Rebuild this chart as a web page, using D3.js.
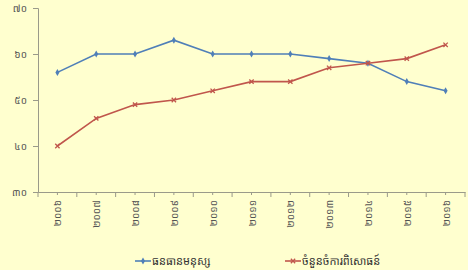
<!DOCTYPE html>
<html><head><meta charset="utf-8">
<script src="https://cdn.jsdelivr.net/npm/d3@7"></script>
<style>
html,body{margin:0;padding:0;background:#ffffcf;}
svg{display:block;}
text{font-family:"Noto Sans Khmer","Khmer OS","Noto Sans","DejaVu Sans",sans-serif;}
</style></head>
<body><svg id="c" width="468" height="270"></svg>
<script>
const years = ["២០០៦","២០០៧","២០០៨","២០០៩","២០១០","២០១១","២០១២","២០១៣","២០១៤","២០១៥","២០១៦"];
const humanResources = [56, 60, 60, 63, 60, 60, 60, 59, 58, 54, 52];
const investmentProjects = [40, 46, 49, 50, 52, 54, 54, 57, 58, 59, 62];
const yTicks = [30, 40, 50, 60, 70];
const yTickLabels = ["៣០","៤០","៥០","៦០","៧០"];
const seriesNames = ["ធនធានមនុស្ស","ចំនួនចំការពិសោធន៍"];
const colors = ["#4f7fb8", "#c0564c"];

const svg = d3.select("#c");
svg.append("rect").attr("width",468).attr("height",270).attr("fill","#ffffcf");
const mLeft = 38, mRight = 465, mTop = 8, mBottom = 192;
const x = d3.scaleBand().domain(years).range([mLeft, mRight]).padding(0);
const y = d3.scaleLinear().domain([30, 70]).range([mBottom, mTop]);
const axisColor = "#9a9a8a";

// y axis
const yg = svg.append("g").attr("transform",`translate(${mLeft},0)`)
  .call(d3.axisLeft(y).tickValues(yTicks).tickFormat((d,i)=>yTickLabels[i]).tickSize(5).tickPadding(6));
yg.select(".domain").attr("stroke",axisColor);
yg.selectAll(".tick line").attr("stroke",axisColor);
yg.selectAll(".tick text").attr("fill","#555").style("font-size","10px");

// x axis
const xg = svg.append("g").attr("transform",`translate(0,${mBottom})`)
  .call(d3.axisBottom(x).tickSize(0).tickFormat(""));
xg.select(".domain").attr("stroke",axisColor);
const bounds = years.map(d=>x(d)).concat([mRight]);
svg.append("g").selectAll("line").data(bounds).join("line")
  .attr("x1",d=>d).attr("x2",d=>d).attr("y1",mBottom).attr("y2",mBottom+5)
  .attr("stroke",axisColor);
svg.append("g").selectAll("line").data(years).join("line")
  .attr("x1",d=>x(d)+x.bandwidth()/2).attr("x2",d=>x(d)+x.bandwidth()/2)
  .attr("y1",mBottom).attr("y2",mBottom+3).attr("stroke",axisColor);
svg.append("g").selectAll("text").data(years).join("text")
  .attr("transform",d=>`translate(${x(d)+x.bandwidth()/2+4},${mBottom+8}) rotate(-90)`)
  .attr("text-anchor","end").attr("fill","#555").style("font-size","10px")
  .text(d=>d);

const cx = d => x(d) + x.bandwidth()/2;
const line = d3.line().x((d,i)=>cx(years[i])).y(d=>y(d));

[humanResources, investmentProjects].forEach((s,k)=>{
  svg.append("path").datum(s).attr("d",line).attr("fill","none")
    .attr("stroke",colors[k]).attr("stroke-width",1.6);
  const g = svg.append("g");
  if(k===0){
    g.selectAll("path").data(s).join("path")
      .attr("d",d3.symbol(d3.symbolDiamond,14)())
      .attr("transform",(d,i)=>`translate(${cx(years[i])},${y(d)})`)
      .attr("fill",colors[k]);
  } else {
    g.selectAll("path").data(s).join("path")
      .attr("d",d3.symbol(d3.symbolX,14)())
      .attr("transform",(d,i)=>`translate(${cx(years[i])},${y(d)})`)
      .attr("fill","none").attr("stroke",colors[k]).attr("stroke-width",1.3);
  }
});

const legendX = [135, 285];
seriesNames.forEach((n,k)=>{
  const g = svg.append("g").attr("transform",`translate(${legendX[k]},261)`);
  g.append("line").attr("x1",0).attr("x2",16).attr("y1",0).attr("y2",0)
    .attr("stroke",colors[k]).attr("stroke-width",1.6);
  if(k===0) g.append("path").attr("d",d3.symbol(d3.symbolDiamond,14)()).attr("transform","translate(8,0)").attr("fill",colors[k]);
  else g.append("path").attr("d",d3.symbol(d3.symbolX,14)()).attr("transform","translate(8,0)").attr("fill","none").attr("stroke",colors[k]).attr("stroke-width",1.3);
  g.append("text").attr("x",17).attr("y",4).attr("fill","#333").style("font-size","11px").text(n);
});
</script></body></html>
